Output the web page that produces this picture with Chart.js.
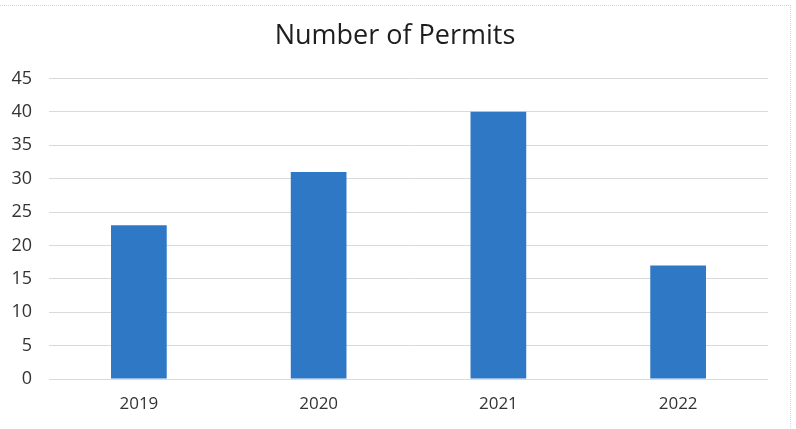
<!DOCTYPE html>
<html>
<head>
<meta charset="utf-8">
<script src="https://cdn.jsdelivr.net/npm/chart.js@4/dist/chart.umd.min.js"></script>
<style>
  html, body { margin: 0; padding: 0; background: #fff; }
  #wrap {
    position: relative;
    width: 796px; height: 429px;
    box-sizing: border-box;
  }
  #frame {
    position: absolute; left: -2px; top: 5px; width: 792px; height: 440px;
    border-top: 1px dotted #d4d4d4; border-right: 1px dotted #d4d4d4;
  }
  canvas { position: absolute; left: 0; top: 0; }
</style>
</head>
<body>
<div id="wrap">
  <div id="frame"></div>
  <canvas id="permitsChart" width="796" height="429"></canvas>
</div>
<script>
// chart data
const years = ['2019', '2020', '2021', '2022'];
const permits = [23, 31, 40, 17];
const yTicks = [0, 5, 10, 15, 20, 25, 30, 35, 40, 45];

const fontFamily = '"Open Sans", "Noto Sans", sans-serif';

document.addEventListener('DOMContentLoaded', function() {
    const ctx = document.getElementById('permitsChart');

    new Chart(ctx.getContext('2d'), {
        type: 'bar',
        data: {
            labels: years,
            datasets: [{
                label: 'Number of Permits',
                data: permits,
                backgroundColor: '#2f78c6',
                borderWidth: 0,
                categoryPercentage: 1.0,
                barPercentage: 0.31
            }]
        },
        options: {
            responsive: false,
            animation: false,
            layout: {
                padding: { left: 0, right: 6, top: 6, bottom: 0 }
            },
            plugins: {
                legend: { display: false },
                tooltip: { enabled: false },
                title: {
                    display: true,
                    text: 'Number of Permits',
                    color: '#1e1e1e',
                    font: { family: fontFamily, size: 27, weight: 'normal' },
                    padding: { top: 14, bottom: 26 }
                }
            },
            scales: {
                y: {
                    min: 0,
                    max: 45,
                    afterBuildTicks: function(axis) {
                        axis.ticks = yTicks.map(v => ({ value: v }));
                    },
                    afterFit: function(axis) {
                        axis.width = 49;
                    },
                    ticks: {
                        color: '#333',
                        padding: 17,
                        font: { family: fontFamily, size: 18 }
                    },
                    grid: {
                        color: '#dadada',
                        lineWidth: 1,
                        drawTicks: false
                    },
                    border: { display: false }
                },
                // empty right-hand gutter so the plot ends where the original does
                gutter: {
                    position: 'right',
                    afterFit: function(axis) {
                        axis.width = 22;
                    },
                    ticks: { display: false },
                    grid: { display: false, drawTicks: false },
                    border: { display: false }
                },
                x: {
                    afterFit: function(axis) {
                        axis.height = 50;
                    },
                    ticks: {
                        color: '#333',
                        padding: 15,
                        font: { family: fontFamily, size: 17 }
                    },
                    grid: { display: false, drawTicks: false },
                    border: { display: false }
                }
            }
        }
    });
});
</script>
</body>
</html>
